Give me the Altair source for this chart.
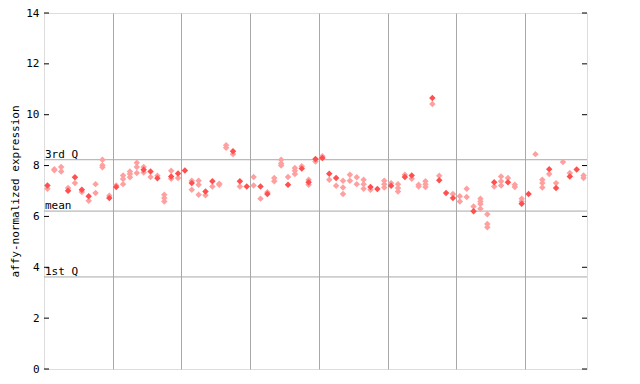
import altair as alt
import pandas as pd

# filled (solid) points: column index, value
solid_col = [0, 3, 4, 5, 6, 9, 10, 14, 15, 16, 18, 19, 20, 21, 23, 24, 27, 28, 29, 31, 32,
             35, 37, 38, 39, 40, 41, 42, 47, 48, 50, 52, 53, 56, 57, 58, 59, 62, 65, 67, 69,
             70, 73, 74, 76, 77]
solid_val = [7.22, 7.01, 7.54, 7.05, 6.79, 6.72, 7.16, 7.84, 7.77, 7.50, 7.57, 7.69, 7.81, 7.31,
             6.98, 7.38, 8.56, 7.38, 7.18, 7.18, 6.88, 7.25, 7.88, 7.34, 8.26, 8.30, 7.68, 7.51,
             7.16, 7.08, 7.21, 7.55, 7.61, 10.66, 7.42, 6.92, 6.72, 6.20, 7.34, 7.34, 6.50,
             6.88, 7.86, 7.12, 7.57, 7.85]

# hatched points: column index, value
hatch_col = [0, 1, 1, 2, 2, 3, 4, 5, 6, 7, 7, 8, 8, 8, 9, 10, 11, 11, 11, 12, 12, 12,
             13, 13, 13, 14, 14, 15, 16, 17, 17, 17, 18, 18, 19, 21, 21, 22, 22, 22, 23, 24,
             25, 25, 26, 26, 27, 28, 30, 30, 31, 32, 33, 33, 34, 34, 34, 35, 36, 36, 36, 37,
             38, 38, 39, 40, 41, 42, 43, 43, 43, 44, 44, 45, 45, 46, 46, 46, 47, 49, 49, 49,
             50, 51, 51, 51, 52, 53, 54, 54, 55, 55, 55, 56, 57, 59, 60, 60, 61, 61, 62,
             63, 63, 63, 63, 64, 64, 64, 65, 66, 66, 66, 67, 68, 68, 69, 69, 71, 72, 72, 72,
             73, 74, 75, 76, 78, 78]
hatch_val = [7.09, 7.86, 7.82, 7.94, 7.77, 7.12, 7.31, 6.96, 6.62, 7.27, 6.92, 8.23, 8.01, 7.93,
             6.81, 7.22, 7.61, 7.47, 7.27, 7.77, 7.67, 7.54,
             8.11, 7.94, 7.71, 7.94, 7.73, 7.55, 7.60, 6.85, 6.72, 6.59, 7.80, 7.48, 7.51,
             7.40, 7.05, 7.40, 7.25, 6.85, 6.83, 7.18,
             7.29, 7.25, 8.80, 8.70, 8.45, 7.18, 7.55, 7.22, 6.70, 6.95, 7.51, 7.38, 8.23,
             8.08, 8.00, 7.55, 7.90, 7.80, 7.67, 7.97,
             7.44, 7.25, 8.16, 8.37, 7.44, 7.21, 7.40, 7.14, 6.88, 7.64, 7.40, 7.54, 7.27,
             7.44, 7.27, 7.09, 7.05, 7.40, 7.27, 7.14,
             7.31, 7.27, 7.12, 6.98, 7.64, 7.48, 7.25, 7.18, 7.38, 7.27, 7.16, 10.42, 7.60,
             6.88, 6.79, 6.59, 7.09, 6.76, 6.39,
             6.70, 6.59, 6.49, 6.30, 6.09, 5.70, 5.57, 7.18, 7.57, 7.38, 7.22, 7.51, 7.25,
             7.16, 6.70, 6.59, 8.45, 7.44, 7.31, 7.14,
             7.67, 7.31, 8.14, 7.71, 7.61, 7.51]

n_cols = 79
group_lines = [10, 20, 30, 40, 50, 60, 70]
y_ticks = [0, 2, 4, 6, 8, 10, 12, 14]
ref_names = ["3rd Q", "mean", "1st Q"]
ref_vals = [8.23, 6.21, 3.62]

solid_df = pd.DataFrame({"x": [c + 0.5 for c in solid_col], "y": solid_val})
hatch_df = pd.DataFrame({"x": [c + 0.5 for c in hatch_col], "y": hatch_val})
ref_df = pd.DataFrame({"name": ref_names, "y": ref_vals})
tick_df = pd.DataFrame({"y": y_ticks})

W, H = 543, 356
font = "DejaVu Sans Mono"

xs = alt.Scale(domain=[0, n_cols], nice=False, zero=False)
ys = alt.Scale(domain=[0, 14], nice=False)

x_enc = alt.X("x:Q", scale=xs,
              axis=alt.Axis(values=group_lines, labels=False, ticks=False, title=None,
                            grid=True, gridColor="#a8a8a8", gridWidth=1, domain=False))
y_enc = alt.Y("y:Q", scale=ys,
              axis=alt.Axis(values=y_ticks, ticks=False, grid=False, domain=False,
                            title="affy-normalized expression", titleFont=font,
                            titleFontSize=11, titleFontWeight="normal", titleColor="black",
                            titlePadding=5, labelFont=font, labelFontSize=11,
                            labelColor="black", labelPadding=5))

hatched = alt.Chart(hatch_df).mark_point(shape="diamond", filled=True, size=42,
                                         color="#ffa0a0", opacity=1).encode(x=x_enc, y=y_enc)
solid = alt.Chart(solid_df).mark_point(shape="diamond", filled=True, size=42,
                                       color="#ff4f4f", opacity=1).encode(x=x_enc, y=y_enc)

ref_lines = alt.Chart(ref_df).mark_rule(color="#a8a8a8", strokeWidth=1).encode(
    y=alt.Y("y:Q", scale=ys))
ref_text = alt.Chart(ref_df).mark_text(align="left", baseline="alphabetic", dx=1, dy=-2,
                                       font=font, fontSize=11, color="black").encode(
    x=alt.value(0), y=alt.Y("y:Q", scale=ys), text="name:N")

left_ticks = alt.Chart(tick_df).mark_rule(color="black").encode(
    x=alt.value(0), x2=alt.value(5), y=alt.Y("y:Q", scale=ys))
right_ticks = alt.Chart(tick_df).mark_rule(color="black").encode(
    x=alt.value(W - 5), x2=alt.value(W), y=alt.Y("y:Q", scale=ys))

chart = alt.layer(ref_lines, hatched, solid, ref_text, left_ticks, right_ticks).properties(
    width=W, height=H,
    autosize=alt.AutoSizeParams(type="none"),
    padding={"left": 36, "top": 5, "right": 45, "bottom": 7},
).configure_view(stroke="black", strokeWidth=1).configure(background="white")

chart.save("out.html", embed_options={"renderer": "svg", "actions": False})
